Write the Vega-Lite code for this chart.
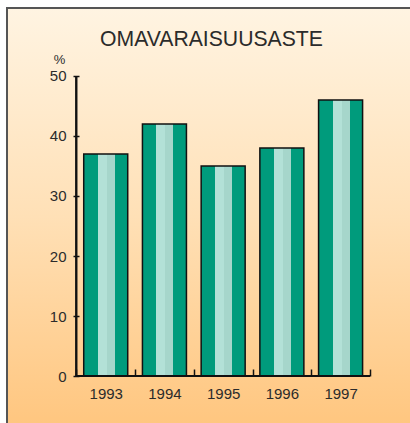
{
  "$schema": "https://vega.github.io/schema/vega-lite/v6.json",
  "autosize": {"type": "none"},
  "padding": {"left": 7, "top": 8, "right": 0, "bottom": 0},
  "width": 406,
  "height": 418,
  "background": "#ffffff",
  "config": {
    "view": {
      "fill": {"gradient": "linear", "x1": 0, "y1": 0, "x2": 0, "y2": 1,
        "stops": [{"offset": 0, "color": "#fff4e2"}, {"offset": 0.5, "color": "#ffe0b6"}, {"offset": 1, "color": "#ffc67f"}]},
      "stroke": "#555555",
      "strokeWidth": 2
    },
    "font": "Liberation Sans",
    "axis": {"grid": false, "domain": false}
  },
  "title": {
    "text": "OMAVARAISUUSASTE",
    "orient": "top",
    "anchor": "start",
    "offset": -59,
    "baseline": "alphabetic",
    "fontSize": 21.2,
    "fontWeight": "normal",
    "color": "#2b2b2b",
    "dx": 93
  },
  "data": {"values": [
    {"year": 1993, "value": 37},
    {"year": 1994, "value": 42},
    {"year": 1995, "value": 35},
    {"year": 1996, "value": 38},
    {"year": 1997, "value": 46}
  ]},
  "resolve": {"axis": {"x": "independent", "y": "independent"}},
  "layer": [
    {
      "mark": {
        "type": "bar",
        "orient": "vertical",
        "width": 44,
        "stroke": "#111111",
        "strokeWidth": 1.5,
        "fill": {"gradient": "linear", "x1": 0, "y1": 0, "x2": 1, "y2": 0,
          "stops": [
            {"offset": 0, "color": "#009b7c"},
            {"offset": 0.318, "color": "#009b7c"},
            {"offset": 0.318, "color": "#b3e1d7"},
            {"offset": 0.523, "color": "#b3e1d7"},
            {"offset": 0.523, "color": "#a6d6cb"},
            {"offset": 0.705, "color": "#a6d6cb"},
            {"offset": 0.705, "color": "#009b7c"},
            {"offset": 1, "color": "#009b7c"}
          ]}
      },
      "encoding": {
        "x": {
          "field": "year", "type": "quantitative",
          "scale": {"domain": [1991.4037, 1998.1482], "nice": false, "zero": false},
          "axis": {"orient": "top", "offset": -368, "values": [1992.5, 1993.5, 1994.5, 1995.5, 1996.5, 1997.5],
             "labels": false, "tickSize": 7, "tickColor": "#111111", "tickWidth": 1.5, "title": null}
        },
        "y": {
          "field": "value", "type": "quantitative",
          "scale": {"domain": [-8.3333, 61.3333], "nice": false, "zero": false},
          "axis": {"orient": "right", "offset": -340, "values": [0, 10, 20, 30, 40, 50],
             "labels": false, "tickSize": 6, "tickColor": "#111111", "tickWidth": 1.5, "title": null}
        },
        "y2": {"datum": 0}
      }
    },
    {
      "mark": {"type": "rule", "color": "#111111", "strokeWidth": 1.5},
      "encoding": {
        "x": {"datum": 1992.5, "type": "quantitative",
          "axis": {"orient": "bottom", "offset": -50, "values": [1993, 1994, 1995, 1996, 1997], "format": "d",
             "ticks": false, "labelPadding": 10, "labelFontSize": 15, "labelColor": "#2b2b2b", "title": null}},
        "x2": {"datum": 1997.5},
        "y": {"datum": 0, "type": "quantitative",
          "axis": {"orient": "left", "offset": -66, "values": [0, 10, 20, 30, 40, 50],
             "ticks": false, "labelPadding": 7, "labelFontSize": 15, "labelColor": "#2b2b2b",
             "title": "%", "titleAngle": 0, "titleX": -14, "titleY": 55, "titleAlign": "center", "titleBaseline": "alphabetic",
             "titleFontSize": 13, "titleFontWeight": "normal", "titleColor": "#2b2b2b"}}
      }
    },
    {
      "mark": {"type": "rule", "color": "#111111", "strokeWidth": 1.5},
      "encoding": {
        "x": {"datum": 1992.5, "type": "quantitative", "axis": null},
        "y": {"datum": 0, "type": "quantitative", "axis": null},
        "y2": {"datum": 50}
      }
    }
  ]
}
